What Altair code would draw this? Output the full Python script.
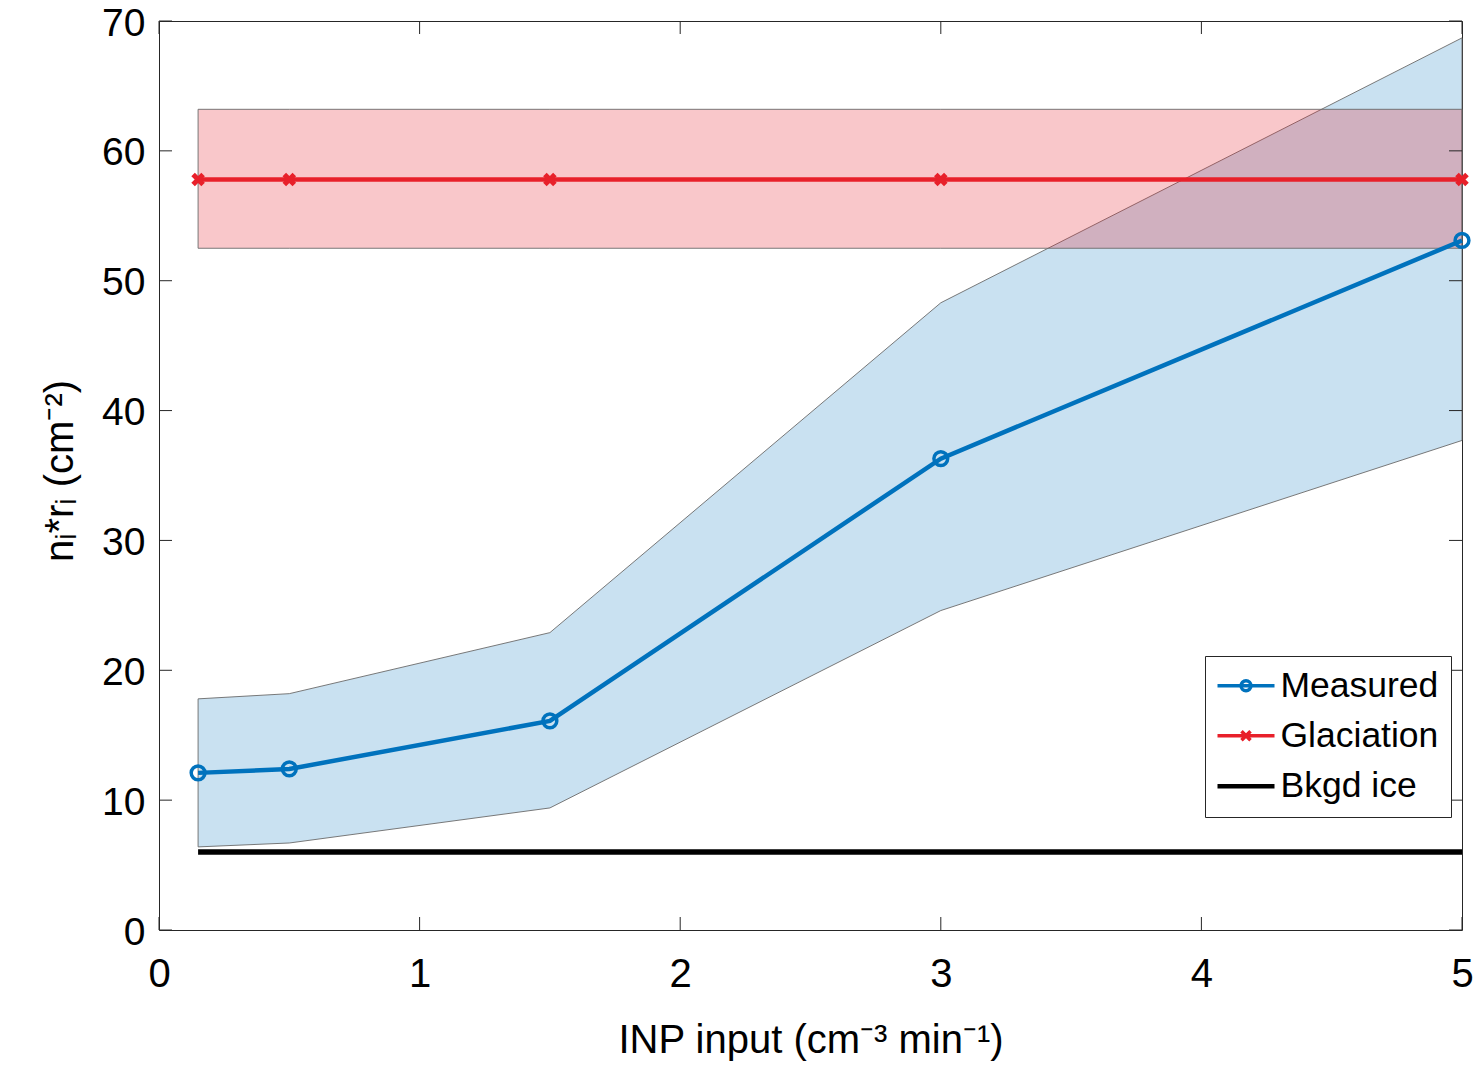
import altair as alt
import pandas as pd

# ---------------- data ----------------
x_vals = [0.15, 0.5, 1.5, 3, 5]
measured = [12.1, 12.4, 16.1, 36.3, 53.1]
measured_upper = [17.8, 18.2, 22.9, 48.3, 68.7]
measured_lower = [6.4, 6.7, 9.4, 24.6, 37.7]
glaciation = [57.8, 57.8, 57.8, 57.8, 57.8]
glaciation_upper = [63.2, 63.2, 63.2, 63.2, 63.2]
glaciation_lower = [52.5, 52.5, 52.5, 52.5, 52.5]
bkgd_x = [0.15, 5]
bkgd_ice = [6.0, 6.0]
x_ticks = [0, 1, 2, 3, 4, 5]
y_ticks = [0, 10, 20, 30, 40, 50, 60, 70]
series = ["Measured", "Glaciation", "Bkgd ice"]
series_colors = ["#0072BD", "#E8202A", "#000000"]

FONT = "Liberation Sans"
BLUE = series_colors[0]
RED = series_colors[1]

df_meas = pd.DataFrame({"x": x_vals, "y": measured, "lo": measured_lower, "hi": measured_upper})
df_glac = pd.DataFrame({"x": x_vals, "y": glaciation, "lo": glaciation_lower, "hi": glaciation_upper})
df_bkgd = pd.DataFrame({"x": bkgd_x, "y": bkgd_ice})
df_xt = pd.DataFrame({"t": x_ticks})
df_yt = pd.DataFrame({"t": y_ticks})
df_leg = pd.DataFrame({"series": series})

W, H = 1303, 909
TICK = 13

xs = alt.Scale(domain=[0, 5], nice=False, zero=False)
ys = alt.Scale(domain=[0, 70], nice=False, zero=False)

x_axis = alt.Axis(values=x_ticks, format="d", title="INP input (cm⁻³ min⁻¹)", ticks=False, tickSize=0,
                  domain=False, grid=False, labelFontSize=40, labelFont=FONT, labelPadding=24,
                  labelColor="black", labelFlush=False, labelOverlap=False,
                  titleFontSize=40, titleFont=FONT, titleFontWeight="normal", titleColor="black",
                  titleX=W / 2, titleY=122, titleBaseline="alphabetic", titleAlign="center")
y_axis = alt.Axis(values=y_ticks, format="d", title="nᵢ*rᵢ (cm⁻²)", ticks=False, tickSize=0,
                  domain=False, grid=False, labelFontSize=39, labelFont=FONT, labelPadding=14,
                  labelOffset=2, labelColor="black", labelFlush=False, labelOverlap=False,
                  titleFontSize=40, titleFont=FONT, titleFontWeight="normal", titleColor="black",
                  titleX=-87, titleY=H / 2 - 5, titleAngle=270, titleBaseline="alphabetic",
                  titleAlign="center")

blue_band = alt.Chart(df_meas).mark_area(
    fill=BLUE, fillOpacity=0.21, stroke="#6a6a6a", strokeWidth=1, strokeOpacity=0.9
).encode(
    x=alt.X("x:Q", scale=xs, axis=x_axis),
    y=alt.Y("lo:Q", scale=ys, axis=y_axis),
    y2="hi:Q",
)

red_band = alt.Chart(df_glac).mark_area(
    fill=RED, fillOpacity=0.25, stroke="#6a6a6a", strokeWidth=1, strokeOpacity=0.9
).encode(
    x=alt.X("x:Q", scale=xs),
    y=alt.Y("lo:Q", scale=ys),
    y2="hi:Q",
)

black_line = alt.Chart(df_bkgd).mark_line(color="black", strokeWidth=5.5).encode(
    x=alt.X("x:Q", scale=xs), y=alt.Y("y:Q", scale=ys)
)

blue_line = alt.Chart(df_meas).mark_line(color=BLUE, strokeWidth=4.5).encode(
    x=alt.X("x:Q", scale=xs), y=alt.Y("y:Q", scale=ys)
)
blue_pts = alt.Chart(df_meas).mark_point(
    shape="circle", filled=False, size=190, strokeWidth=3.5, color=BLUE, opacity=1
).encode(x=alt.X("x:Q", scale=xs), y=alt.Y("y:Q", scale=ys))

red_line = alt.Chart(df_glac).mark_line(color=RED, strokeWidth=4.5).encode(
    x=alt.X("x:Q", scale=xs), y=alt.Y("y:Q", scale=ys)
)
red_pts = alt.Chart(df_glac).mark_point(
    shape="M-1,-1L1,1M-1,1L1,-1", filled=False, size=100, strokeWidth=5, color=RED, opacity=1
).encode(x=alt.X("x:Q", scale=xs), y=alt.Y("y:Q", scale=ys))

# inward ticks on all four sides (MATLAB box style)
tick_color = "#262626"
xt_bottom = alt.Chart(df_xt).mark_rule(color=tick_color, strokeWidth=1).encode(
    x=alt.X("t:Q", scale=xs), y=alt.value(H), y2=alt.value(H - TICK))
xt_top = alt.Chart(df_xt).mark_rule(color=tick_color, strokeWidth=1).encode(
    x=alt.X("t:Q", scale=xs), y=alt.value(0), y2=alt.value(TICK))
yt_left = alt.Chart(df_yt).mark_rule(color=tick_color, strokeWidth=1).encode(
    y=alt.Y("t:Q", scale=ys), x=alt.value(0), x2=alt.value(TICK))
yt_right = alt.Chart(df_yt).mark_rule(color=tick_color, strokeWidth=1).encode(
    y=alt.Y("t:Q", scale=ys), x=alt.value(W - TICK), x2=alt.value(W))

# legend (line + marker symbols as custom paths)
leg_paths = [
    "M-1.15,0L2.65,0M0.42,0A0.33,0.33 0 1,1 1.08,0A0.33,0.33 0 1,1 0.42,0",
    "M-1.15,0L2.65,0M0.45,-0.3L1.05,0.3M0.45,0.3L1.05,-0.3",
    "M-1.15,0L2.65,0M-1.15,0.07L2.65,0.07",
]
legend = alt.Legend(
    title=None, orient="none", legendX=1046, legendY=635,
    padding=12, rowPadding=13, labelOffset=28, symbolSize=900, symbolStrokeWidth=3.5,
    labelFontSize=35.5, labelFont=FONT, labelColor="black", labelLimit=0,
    strokeColor="#262626", fillColor="white", cornerRadius=0,
)
legend_layer = alt.Chart(df_leg).mark_point(filled=False, opacity=0, strokeWidth=3.5).encode(
    color=alt.Color("series:N", scale=alt.Scale(domain=series, range=series_colors), legend=legend),
    shape=alt.Shape("series:N", scale=alt.Scale(domain=series, range=leg_paths), legend=legend),
)

chart = alt.layer(
    blue_band, red_band, black_line, blue_line, blue_pts, red_line, red_pts,
    xt_bottom, xt_top, yt_left, yt_right, legend_layer,
).properties(
    width=W, height=H,
    padding={"left": 159, "top": 21, "right": 16, "bottom": 140},
    autosize=alt.AutoSizeParams(type="none"),
    background="white",
).configure_view(stroke="#262626", strokeWidth=1)

chart.save("out.html", embed_options={"renderer": "svg", "actions": False})
